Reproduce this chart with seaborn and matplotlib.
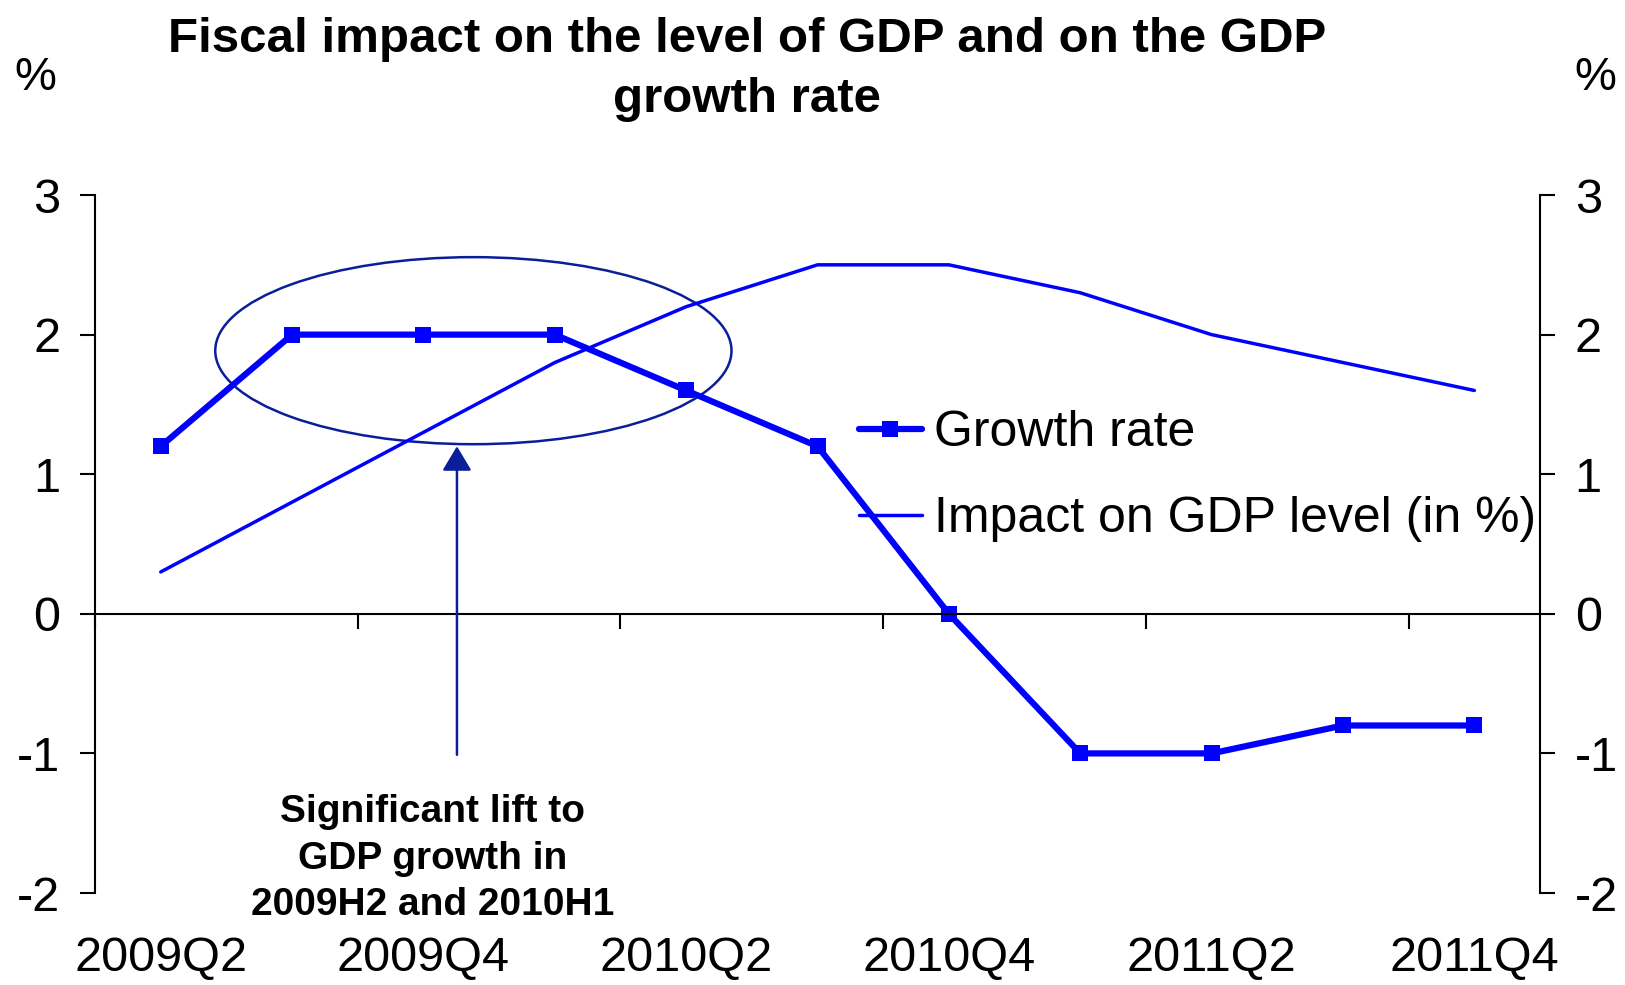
import matplotlib
matplotlib.use("Agg")
import matplotlib.pyplot as plt
import seaborn as sns
import numpy as np
import pandas as pd
from matplotlib.patches import Ellipse

quarters = ["2009Q2", "2009Q3", "2009Q4", "2010Q1", "2010Q2", "2010Q3",
            "2010Q4", "2011Q1", "2011Q2", "2011Q3", "2011Q4"]
growth_rate = [1.2, 2.0, 2.0, 2.0, 1.6, 1.2, 0.0, -1.0, -1.0, -0.8, -0.8]
impact_level = [0.3, 0.8, 1.3, 1.8, 2.2, 2.5, 2.5, 2.3, 2.0, 1.8, 1.6]
y_ticks = [-2, -1, 0, 1, 2, 3]
title = "Fiscal impact on the level of GDP and on the GDP\ngrowth rate"
annotation = "Significant lift to\nGDP growth in\n2009H2 and 2010H1"

sns.set_style("white")
plt.rcParams['font.family'] = ['Liberation Sans', 'DejaVu Sans']
plt.rcParams['axes.unicode_minus'] = False
plt.rcParams['text.color'] = 'black'
plt.rcParams['xtick.color'] = 'black'
plt.rcParams['ytick.color'] = 'black'

idx = np.arange(len(quarters))
df = pd.DataFrame({"idx": idx, "Growth rate": growth_rate,
                   "Impact on GDP level (in %)": impact_level})

fig = plt.figure(figsize=(16.25, 9.85), dpi=100)
ax = fig.add_axes([0.0585, 0.0934, 0.8892, 0.7086])

BLUE = "#0000FF"
NAVY = "#0A1E9A"
TICK_FS = 35

sns.lineplot(data=df, x="idx", y="Growth rate", ax=ax, color=BLUE, lw=4.5,
             marker="s", markersize=11, markeredgewidth=0, label="Growth rate", sort=False)
sns.lineplot(data=df, x="idx", y="Impact on GDP level (in %)", ax=ax, color=BLUE, lw=2.5,
             label="Impact on GDP level (in %)", sort=False)

ax.set_xlim(-0.5, len(quarters) - 0.5)
ax.set_ylim(-2, 3)
ax.set_xlabel("")
ax.set_ylabel("")

for s in ["top", "right"]:
    ax.spines[s].set_visible(False)
ax.spines["bottom"].set_position(("data", 0))
for s in ["bottom", "left"]:
    ax.spines[s].set_linewidth(1.5)
    ax.spines[s].set_color("black")

ax.set_xticks(np.arange(-0.5, len(quarters) - 0.5, 2))
ax.set_xticklabels([])
ax.tick_params(axis="x", which="major", bottom=True, direction="out", length=11, width=1.5,
               colors="black")

ax.set_yticks(y_ticks)
ax.set_yticklabels([str(t) for t in y_ticks])
ax.tick_params(axis="y", left=True, direction="out", length=11, width=1.5,
               labelsize=TICK_FS, pad=14, colors="black")

sec = ax.secondary_xaxis(0)
sec.set_xticks(idx[::2])
sec.set_xticklabels(quarters[::2])
sec.tick_params(length=0, labelsize=TICK_FS, pad=31, colors="black")
sec.spines["bottom"].set_visible(False)

ax2 = ax.twinx()
ax2.set_ylim(-2, 3)
ax2.set_yticks(y_ticks)
ax2.set_yticklabels([str(t) for t in y_ticks])
for s in ["top", "left", "bottom"]:
    ax2.spines[s].set_visible(False)
ax2.spines["right"].set_linewidth(1.5)
ax2.spines["right"].set_color("black")
ax2.tick_params(axis="y", right=True, direction="out", length=11, width=1.5,
                labelsize=TICK_FS, pad=14, colors="black")

ax.add_patch(Ellipse((2.38, 1.885), 3.93, 1.34, fill=False, edgecolor=NAVY, lw=1.8, zorder=1))
ax.annotate("", xy=(2.255, 1.22), xytext=(2.255, -1.03),
            arrowprops=dict(arrowstyle="-|>,head_length=0.5,head_width=0.3",
                            color=NAVY, lw=1.8, mutation_scale=30))
ax.text(2.07, -1.755, annotation, ha="center", va="center", fontsize=28,
        fontweight="bold", linespacing=1.38)

leg = ax.legend(loc="upper left", bbox_to_anchor=(0.515, 0.72), frameon=False,
                fontsize=36, handlelength=1.25, handletextpad=0.25, labelspacing=0.8,
                borderaxespad=0)

fig.text(0.4597, 0.983, title, ha="center", va="top", fontsize=35.5, fontweight="bold",
         linespacing=1.45)
fig.text(0.022, 0.921, "%", ha="center", va="center", fontsize=34)
fig.text(0.982, 0.921, "%", ha="center", va="center", fontsize=34)

fig.savefig("out.png", dpi=100)
